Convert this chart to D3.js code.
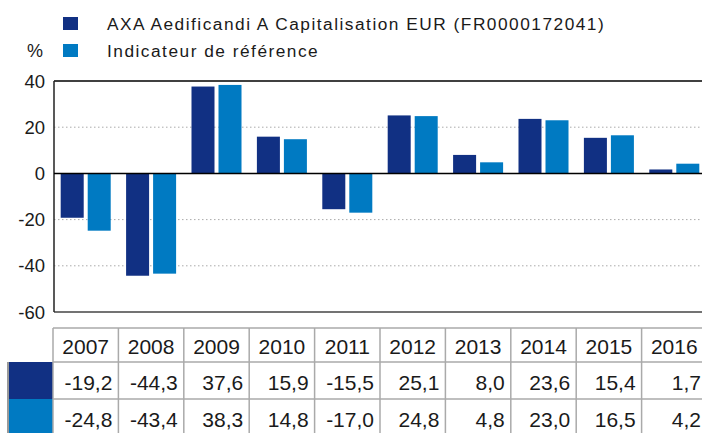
<!DOCTYPE html>
<html>
<head>
<meta charset="utf-8">
<script src="https://cdn.jsdelivr.net/npm/d3@7"></script>
<style>
  body { margin: 0; background: #fff; }
  text { font-family: "Liberation Sans", Arial, sans-serif; fill: #1a1a1a; }
</style>
</head>
<body>
<div id="chart"></div>
<script>
const years = ["2007", "2008", "2009", "2010", "2011", "2012", "2013", "2014", "2015", "2016"];
const fundValues = [-19.2, -44.3, 37.6, 15.9, -15.5, 25.1, 8.0, 23.6, 15.4, 1.7];
const benchValues = [-24.8, -43.4, 38.3, 14.8, -17.0, 24.8, 4.8, 23.0, 16.5, 4.2];
const seriesNames = ["AXA Aedificandi A Capitalisation EUR (FR0000172041)", "Indicateur de référence"];
const yTicks = [40, 20, 0, -20, -40, -60];

const width = 702, height = 433;
const colors = ["#113083", "#007ac2"];

const svg = d3.select("#chart").append("svg")
  .attr("width", width)
  .attr("height", height);

const x = d3.scaleBand().domain(years).range([53, 707]).padding(0);
const xs = d3.scaleBand().domain([0, 1]).range([0, x.bandwidth()])
  .paddingInner(0.148).paddingOuter(0.285);
const y = d3.scaleLinear().domain([-60, 40]).range([312, 81]);

// gridlines
svg.append("g")
  .selectAll("line")
  .data([20, -20, -40])
  .join("line")
  .attr("x1", 54).attr("x2", width)
  .attr("y1", d => y(d)).attr("y2", d => y(d))
  .attr("stroke", "#aaa")
  .attr("stroke-width", 1)
  .attr("stroke-dasharray", "1.5,2.5");

// bars
const data = years.map((yr, i) => ({ year: yr, vals: [fundValues[i], benchValues[i]] }));
svg.append("g")
  .selectAll("g")
  .data(data)
  .join("g")
  .attr("transform", d => `translate(${x(d.year)},0)`)
  .selectAll("rect")
  .data(d => d.vals.map((v, k) => ({ v, k })))
  .join("rect")
  .attr("x", d => xs(d.k))
  .attr("width", xs.bandwidth())
  .attr("y", d => y(Math.max(0, d.v)))
  .attr("height", d => Math.abs(y(d.v) - y(0)))
  .attr("fill", d => colors[d.k]);

// frame
svg.append("line").attr("x1", 54).attr("x2", width).attr("y1", y(40)).attr("y2", y(40))
  .attr("stroke", "#000").attr("stroke-width", 1.5);
svg.append("line").attr("x1", 54).attr("x2", width).attr("y1", y(-60)).attr("y2", y(-60))
  .attr("stroke", "#444").attr("stroke-width", 1.5);
svg.append("line").attr("x1", 54).attr("x2", 54).attr("y1", y(40)).attr("y2", y(-60))
  .attr("stroke", "#222").attr("stroke-width", 1.5);
svg.append("line").attr("x1", 54).attr("x2", width).attr("y1", y(0)).attr("y2", y(0))
  .attr("stroke", "#000").attr("stroke-width", 1.5);

// y labels
svg.append("g")
  .selectAll("text")
  .data(yTicks)
  .join("text")
  .attr("x", 45)
  .attr("y", d => y(d) + 6.5)
  .attr("text-anchor", "end")
  .attr("font-size", 18.5)
  .text(d => d);

// legend
const legend = svg.append("g");
seriesNames.forEach((name, i) => {
  legend.append("rect")
    .attr("x", 63).attr("y", 17 + i * 27)
    .attr("width", 15).attr("height", 13)
    .attr("fill", colors[i]);
  legend.append("text")
    .attr("x", 107).attr("y", 30 + i * 27)
    .attr("font-size", 17.3)
    .attr("letter-spacing", 1.5)
    .text(name);
});
svg.append("text").attr("x", 27).attr("y", 57).attr("font-size", 18).text("%");

// table
const rowTop = [328, 362, 399, 436];
const table = svg.append("g");
table.append("line").attr("x1", 8).attr("x2", 8).attr("y1", rowTop[1]).attr("y2", rowTop[3])
  .attr("stroke", "#999").attr("stroke-width", 2);
[fundValues, benchValues].forEach((vals, r) => {
  table.append("rect")
    .attr("x", 9).attr("y", rowTop[r + 1])
    .attr("width", x.range()[0] - 9).attr("height", rowTop[r + 2] - rowTop[r + 1])
    .attr("fill", colors[r]);
});
table.selectAll("line.h")
  .data(rowTop)
  .join("line")
  .attr("class", "h")
  .attr("x1", x.range()[0]).attr("x2", x.range()[1])
  .attr("y1", d => d).attr("y2", d => d)
  .attr("stroke", "#aaa").attr("stroke-width", 1.5);
table.selectAll("line.v")
  .data(years.concat(["end"]))
  .join("line")
  .attr("class", "v")
  .attr("x1", d => d === "end" ? x.range()[1] : x(d))
  .attr("x2", d => d === "end" ? x.range()[1] : x(d))
  .attr("y1", rowTop[0]).attr("y2", rowTop[3])
  .attr("stroke", "#aaa").attr("stroke-width", 1.5);

table.selectAll("text.yr")
  .data(years)
  .join("text")
  .attr("class", "yr")
  .attr("x", d => x(d) + x.bandwidth() / 2)
  .attr("y", 354)
  .attr("text-anchor", "middle")
  .attr("font-size", 21)
  .text(d => d);

const fmt = v => v.toFixed(1).replace(".", ",");
[fundValues, benchValues].forEach((vals, r) => {
  table.selectAll(`text.r${r}`)
    .data(vals)
    .join("text")
    .attr("class", `r${r}`)
    .attr("x", (d, i) => x(years[i]) + x.bandwidth() - 6)
    .attr("y", r === 0 ? 390 : 427)
    .attr("text-anchor", "end")
    .attr("font-size", 21)
    .text(d => fmt(d));
});
</script>
</body>
</html>
